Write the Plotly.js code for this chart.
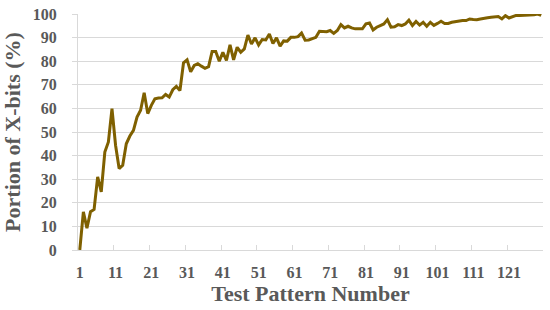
<!DOCTYPE html>
<html>
<head>
<meta charset="utf-8">
<script src="https://cdn.plot.ly/plotly-3.0.1.min.js"></script>
<style>html,body{margin:0;padding:0;background:#fff;}#chart{width:550px;height:310px;}</style>
</head>
<body>
<div id="chart"></div>
<script>
var patternNumbers = [];
for (var n = 1; n <= 130; n++) patternNumbers.push(n);

var xbitPortion = [
  0, 16.2, 9.2, 16.2, 17.2, 31, 24.6, 41.5, 45.8, 59.9,
  44.4, 34.5, 35.9, 45, 48.3, 50.7, 56.3, 59.2, 66.6, 57.8,
  61.3, 64.1, 64.4, 64.5, 65.9, 64.8, 67.9, 69.3, 67.6, 79.3,
  80.6, 75.5, 78.2, 78.9, 77.9, 77, 77.7, 84.1, 84.1, 80,
  83.8, 80.3, 86.9, 80.6, 85.9, 83.8, 85.2, 91.1, 87.3, 89.9,
  86.9, 89.2, 89, 91.5, 87.5, 89.9, 86.4, 88.6, 88.5, 90.1,
  90.1, 90.4, 91.9, 88.9, 89, 89.4, 90.1, 92.7, 92.7, 92.5,
  93, 91.8, 93, 95.5, 94.1, 94.8, 94.1, 93.7, 93.7, 93.7,
  95.8, 96.2, 93.2, 94.4, 95.1, 95.8, 97.6, 94.4, 94.6, 95.5,
  95.1, 95.8, 97.4, 95.1, 96.8, 95.3, 96.5, 94.8, 96.5, 95.2,
  96, 96.9, 96, 96, 96.5, 96.8, 97, 97.2, 97.2, 97.9,
  97.7, 97.6, 97.9, 98.3, 98.4, 98.6, 98.9, 98.9, 97.9, 99.3,
  98.3, 98.9, 99.4, 99.4, 99.4, 99.5, 99.6, 99.7, 100, 99.4
];

var xLabelVals = [1, 11, 21, 31, 41, 51, 61, 71, 81, 91, 101, 111, 121];
var xLabelText = ['1','11','21','31','41','51','61','71','81','91','101','111','121'];
var xTickMarkVals = [0.5, 10.5, 20.5, 30.5, 40.5, 50.5, 60.5, 70.5, 80.5, 90.5, 100.5, 110.5, 120.5, 130.5];
var yTickVals = [0, 10, 20, 30, 40, 50, 60, 70, 80, 90, 100];

var fontFam = '"Liberation Serif", "Times New Roman", serif';
var textColor = '#595959';
var gridColor = '#d9d9d9';

var trace = {
  x: patternNumbers,
  y: xbitPortion,
  type: 'scatter',
  mode: 'lines',
  line: {color: '#7f6000', width: 3},
  hoverinfo: 'none'
};

var layout = {
  width: 550,
  height: 310,
  margin: {l: 78, r: 7, t: 14, b: 60},
  paper_bgcolor: '#ffffff',
  plot_bgcolor: '#ffffff',
  showlegend: false,
  font: {family: fontFam, color: textColor},
  xaxis: {
    range: [0.5, 130.5],
    tickmode: 'array',
    tickvals: xLabelVals,
    ticktext: xLabelText,
    ticks: '',
    showgrid: false,
    zeroline: false,
    showline: true,
    linecolor: gridColor,
    linewidth: 1,
    ticklabelstandoff: 8,
    tickfont: {family: fontFam, size: 16, color: textColor, weight: 'bold'},
    title: {text: 'Test Pattern Number', font: {family: fontFam, size: 22, color: textColor, weight: 'bold'}, standoff: 4}
  },
  xaxis2: {
    overlaying: 'x',
    anchor: 'y',
    side: 'bottom',
    range: [0.5, 130.5],
    tickmode: 'array',
    tickvals: xTickMarkVals,
    ticks: 'inside',
    ticklen: 5,
    tickcolor: gridColor,
    tickwidth: 1,
    showticklabels: false,
    showgrid: false,
    zeroline: false,
    showline: false
  },
  yaxis: {
    range: [0, 100],
    tickmode: 'array',
    tickvals: yTickVals,
    ticks: 'outside',
    ticklen: 5,
    tickcolor: gridColor,
    showgrid: true,
    gridcolor: gridColor,
    gridwidth: 1,
    zeroline: false,
    showline: true,
    linecolor: gridColor,
    ticklabelstandoff: 12,
    tickfont: {family: fontFam, size: 16, color: textColor, weight: 'bold'},
    title: {text: 'Portion of X-bits (%)', font: {family: fontFam, size: 22, color: textColor, weight: 'bold'}, standoff: 6}
  }
};

var ghost = {x: [0.5, 130.5], y: [null, null], xaxis: 'x2', yaxis: 'y', type: 'scatter', mode: 'lines', hoverinfo: 'none', showlegend: false};

Plotly.newPlot('chart', [trace, ghost], layout, {staticPlot: true, displayModeBar: false});
</script>
</body>
</html>
